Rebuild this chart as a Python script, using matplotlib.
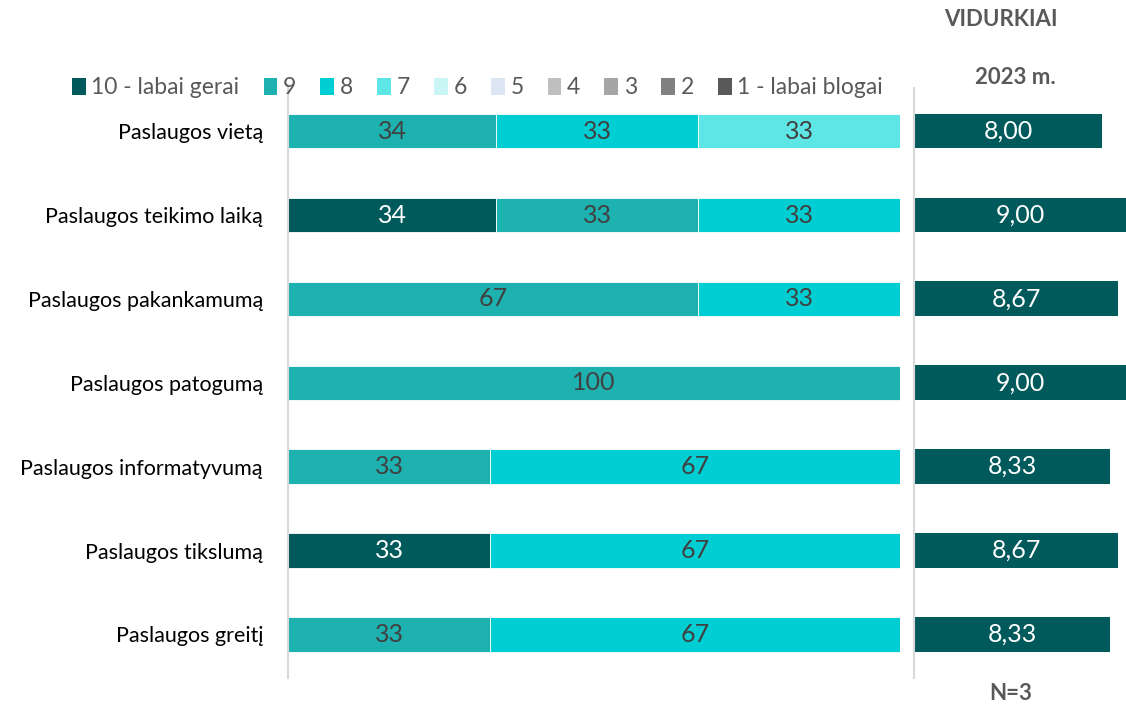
import numpy as np
import matplotlib.pyplot as plt
from matplotlib.patches import Patch

plt.rcParams['font.family'] = ['Lato', 'DejaVu Sans']

# data
categories = ['Paslaugos vietą', 'Paslaugos teikimo laiką', 'Paslaugos pakankamumą',
              'Paslaugos patogumą', 'Paslaugos informatyvumą', 'Paslaugos tikslumą',
              'Paslaugos greitį']
score_labels = ['10 - labai gerai', '9', '8', '7', '6', '5', '4', '3', '2', '1 - labai blogai']
s10 = [0, 34, 0, 0, 0, 33, 0]
s9 = [34, 33, 67, 100, 33, 0, 33]
s8 = [33, 33, 33, 0, 67, 67, 67]
s7 = [33, 0, 0, 0, 0, 0, 0]
s6 = [0, 0, 0, 0, 0, 0, 0]
s5 = [0, 0, 0, 0, 0, 0, 0]
s4 = [0, 0, 0, 0, 0, 0, 0]
s3 = [0, 0, 0, 0, 0, 0, 0]
s2 = [0, 0, 0, 0, 0, 0, 0]
s1 = [0, 0, 0, 0, 0, 0, 0]
means = [8.00, 9.00, 8.67, 9.00, 8.33, 8.67, 8.33]

colors = ['#005A5B', '#1DB1AF', '#00CED3', '#5EE6E6', '#C9F5F5',
          '#DCE6F2', '#BFBFBF', '#A6A6A6', '#808080', '#595959']
txt_gray = '#404040'

series = [s10, s9, s8, s7, s6, s5, s4, s3, s2, s1]

fig = plt.figure(figsize=(11.26, 7.06), dpi=100)
W, H = 1126, 706

# left stacked bars: x 288..900, y 85..678
ax = fig.add_axes([288 / W, 1 - 678 / H, (900 - 288) / W, (678 - 85) / H])
y = np.arange(len(categories))
left = np.zeros(len(categories))
for vals, c in zip(series, colors):
    vals = np.array(vals, dtype=float)
    ax.barh(y, vals, left=left, height=0.41, color=c, edgecolor='white', linewidth=0.6)
    for i, v in enumerate(vals):
        if v > 0:
            tc = 'white' if c == colors[0] else txt_gray
            ax.text(left[i] + v / 2, y[i], '%d' % v, ha='center', va='center',
                    fontsize=18, color=tc)
    left += vals
ax.set_xlim(0, 100)
ax.set_ylim(6.52, -0.55)
ax.set_yticks(y)
ax.set_yticklabels(categories, fontsize=15.5, color='black')
ax.tick_params(axis='y', length=0, pad=18)
ax.set_xticks([])
for sp in ['top', 'right', 'bottom']:
    ax.spines[sp].set_visible(False)
ax.spines['left'].set_color('#D9D9D9')
ax.spines['left'].set_linewidth(1.5)

# right panel with means: x 914..1126
ax2 = fig.add_axes([914 / W, 1 - 678 / H, (1126 - 914) / W, (678 - 88) / H])
ax2.barh(y, means, height=0.41, color=colors[0])
for i, m in enumerate(means):
    ax2.text(m / 2, y[i], ('%.2f' % m).replace('.', ','), ha='center', va='center',
             fontsize=18, color='white')
ax2.set_xlim(0, 9)
ax2.set_ylim(6.52, -0.51)
ax2.set_xticks([])
ax2.set_yticks([])
for sp in ['top', 'right', 'bottom']:
    ax2.spines[sp].set_visible(False)
ax2.spines['left'].set_color('#D9D9D9')
ax2.spines['left'].set_linewidth(1.5)

fig.text(1001 / W, 1 - 20 / H, 'VIDURKIAI', ha='center', va='center',
         fontsize=16, fontweight='bold', color='#595959')
fig.text(1015 / W, 1 - 78 / H, '2023 m.', ha='center', va='center',
         fontsize=16, fontweight='bold', color='#595959')
fig.text(1011 / W, 1 - 693 / H, 'N=3', ha='center', va='center',
         fontsize=16, fontweight='bold', color='#595959')

handles = [Patch(facecolor=c, edgecolor='none') for c in colors]
fig.legend(handles, score_labels, loc='center left', bbox_to_anchor=(72 / W, 1 - 88 / H),
           ncol=10, frameon=False, fontsize=16.5, handlelength=0.6, handleheight=0.7,
           handletextpad=0.25, columnspacing=1.05, labelcolor='#595959',
           borderaxespad=0, borderpad=0)

fig.savefig('out.png', dpi=100)
